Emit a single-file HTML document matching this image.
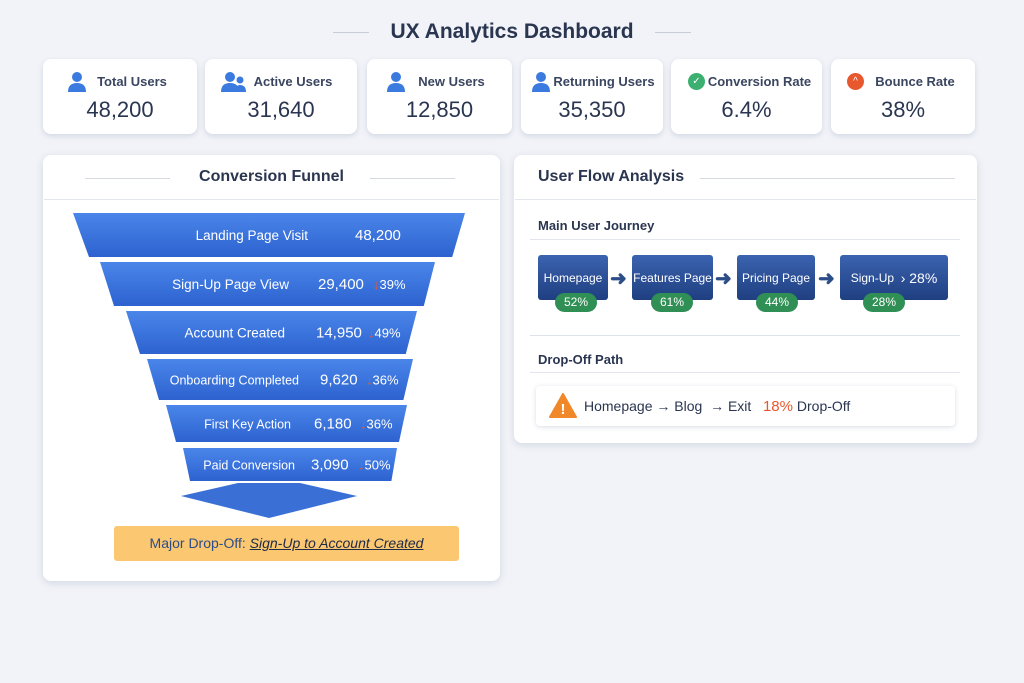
<!DOCTYPE html>
<html><head><meta charset="utf-8"><style>
*{box-sizing:border-box;margin:0;padding:0}
body{width:1024px;height:683px;background:#f1f3f8;font-family:"Liberation Sans",sans-serif;position:relative;overflow:hidden;color:#2a3550}
.abs{position:absolute}
.card{position:absolute;top:59px;height:75px;background:#fff;border-radius:8px;box-shadow:0 2px 6px rgba(40,60,100,.15)}
.card .lbl{position:absolute;top:15px;left:0;right:0;text-align:center;font-size:13px;font-weight:bold;color:#3a4560}
.card .val{position:absolute;top:38px;left:0;right:0;text-align:center;font-size:22px;color:#2a3550}
.card svg{position:absolute;top:12px}
.panel{position:absolute;background:#fff;border-radius:8px;box-shadow:0 2px 8px rgba(40,60,100,.15)}
.box{position:absolute;top:255px;height:45px;background:linear-gradient(#3b63b0,#1f3f80);border-radius:3px;color:#fff;font-size:12px;display:flex;align-items:center;justify-content:center}
.pill{position:absolute;top:293px;height:19px;width:42px;background:#2f8f55;border-radius:10px;color:#fff;font-size:12px;text-align:center;line-height:19px}
.arr{position:absolute;top:266px;color:#2d4d88;font-size:20px;font-weight:bold}
</style></head><body>
<div class="abs" style="left:0;right:0;top:20px;text-align:center;font-size:21px;font-weight:bold;color:#2a3550">UX Analytics Dashboard</div>
<div class="abs" style="left:333px;top:32px;width:36px;height:1px;background:#c8ccd6"></div>
<div class="abs" style="left:655px;top:32px;width:36px;height:1px;background:#c8ccd6"></div>

<div class="card" style="left:43px;width:154px"><div class="lbl" style="padding-left:24px">Total Users</div><div class="val">48,200</div><svg style="left:24px" width="20" height="22"><circle cx="10" cy="6" r="5" fill="#3b7be0"/><path d="M1 21 Q1 12 10 12 Q19 12 19 21Z" fill="#3b7be0"/></svg></div>
<div class="card" style="left:205px;width:152px"><div class="lbl" style="padding-left:24px">Active Users</div><div class="val">31,640</div><svg style="left:16px" width="26" height="22"><circle cx="9" cy="6" r="5" fill="#3b7be0"/><path d="M0 21 Q0 12 9 12 Q18 12 18 21Z" fill="#3b7be0"/><circle cx="19" cy="9" r="3.5" fill="#3b7be0"/><path d="M14 21 Q14 14 19 14 Q25 14 25 21Z" fill="#3b7be0"/></svg></div>
<div class="card" style="left:367px;width:145px"><div class="lbl" style="padding-left:24px">New Users</div><div class="val">12,850</div><svg style="left:19px" width="20" height="22"><circle cx="10" cy="6" r="5" fill="#3b7be0"/><path d="M1 21 Q1 12 10 12 Q19 12 19 21Z" fill="#3b7be0"/></svg></div>
<div class="card" style="left:521px;width:142px"><div class="lbl" style="padding-left:24px">Returning Users</div><div class="val">35,350</div><svg style="left:10px" width="20" height="22"><circle cx="10" cy="6" r="5" fill="#3b7be0"/><path d="M1 21 Q1 12 10 12 Q19 12 19 21Z" fill="#3b7be0"/></svg></div>
<div class="card" style="left:671px;width:151px"><div class="lbl" style="padding-left:26px">Conversion Rate</div><div class="val">6.4%</div><div class="abs" style="left:17px;top:14px;width:17px;height:17px;border-radius:50%;background:#3bb070;color:#fff;font-size:10px;text-align:center;line-height:17px">✓</div></div>
<div class="card" style="left:831px;width:144px"><div class="lbl" style="padding-left:24px">Bounce Rate</div><div class="val">38%</div><div class="abs" style="left:16px;top:14px;width:17px;height:17px;border-radius:50%;background:#e8582e;color:#fff;font-size:10px;text-align:center;line-height:17px">^</div></div>

<div class="panel" style="left:43px;top:155px;width:457px;height:426px"></div>
<div class="abs" style="left:43px;width:457px;top:168px;text-align:center;font-size:16px;font-weight:bold">Conversion Funnel</div>
<div class="abs" style="left:85px;top:178px;width:85px;height:1px;background:#d5d9e2"></div>
<div class="abs" style="left:370px;top:178px;width:85px;height:1px;background:#d5d9e2"></div>
<div class="abs" style="left:44px;top:199px;width:455px;height:1px;background:#e3e6ec"></div>
<svg id="funnel" class="abs" style="left:0;top:0" width="1024" height="683"></svg>
<div class="abs" style="left:114px;top:526px;width:345px;height:35px;background:#fbc770;border-radius:3px;font-size:14px;line-height:35px;text-align:center;color:#2d4d88">Major Drop-Off: <i style="color:#1f2a44;text-decoration:underline">Sign-Up to Account Created</i></div>

<div class="panel" style="left:514px;top:155px;width:463px;height:288px"></div>
<div class="abs" style="left:538px;top:168px;font-size:16px;font-weight:bold">User Flow Analysis</div>
<div class="abs" style="left:700px;top:178px;width:255px;height:1px;background:#d5d9e2"></div>
<div class="abs" style="left:515px;top:199px;width:461px;height:1px;background:#e3e6ec"></div>
<div class="abs" style="left:538px;top:218px;font-size:13px;font-weight:bold">Main User Journey</div>
<div class="abs" style="left:530px;top:239px;width:430px;height:1px;background:#e3e6ec"></div>
<div class="box" style="left:538px;width:70px">Homepage</div>
<div class="box" style="left:632px;width:81px">Features Page</div>
<div class="box" style="left:737px;width:78px">Pricing Page</div>
<div class="box" style="left:840px;width:108px">Sign-Up&nbsp;&nbsp;<span style="font-size:14px">› 28%</span></div>
<div class="arr" style="left:610px">➜</div>
<div class="arr" style="left:715px">➜</div>
<div class="arr" style="left:818px">➜</div>
<div class="pill" style="left:555px">52%</div>
<div class="pill" style="left:651px">61%</div>
<div class="pill" style="left:756px">44%</div>
<div class="pill" style="left:863px">28%</div>
<div class="abs" style="left:530px;top:335px;width:430px;height:1px;background:#dde1e8"></div>
<div class="abs" style="left:538px;top:352px;font-size:13px;font-weight:bold">Drop-Off Path</div>
<div class="abs" style="left:530px;top:372px;width:430px;height:1px;background:#e3e6ec"></div>
<div class="abs" style="left:536px;top:386px;width:419px;height:40px;background:#fff;border-radius:4px;box-shadow:0 1px 5px rgba(40,60,100,.18);font-size:14px;line-height:40px;padding-left:48px;color:#2a3550">Homepage → Blog &nbsp;→ Exit &nbsp;&nbsp;<b style="color:#e8582e;font-weight:normal;font-size:15px">18%</b> Drop-Off
<svg class="abs" style="left:13px;top:7px" width="28" height="25"><polygon points="14,1 27,24 1,24" fill="#f0882a" stroke="#f0882a" stroke-linejoin="round" stroke-width="2"/><text x="14" y="21" text-anchor="middle" fill="#fff" font-size="15" font-weight="bold" font-family="Liberation Sans">!</text></svg></div>

<script>
const stages=["Landing Page Visit","Sign-Up Page View","Account Created","Onboarding Completed","First Key Action","Paid Conversion"];
const counts=[48200,29400,14950,9620,6180,3090];
const drops=[null,39,49,36,36,50];
const svg=document.getElementById('funnel');
const NS='http://www.w3.org/2000/svg';
// layout (not data): row geometry of the funnel
const rowTopL=[213,262,311,359,405,448], rowHL=[44,44,43,41,37,33];
const topLeft=[73,100,126,147,166,183], topRight=[465,435,417,413,407,397];
const inset=[16,14,14,12,10,7];
svg.innerHTML='<defs><linearGradient id="g" x1="0" y1="0" x2="0" y2="1"><stop offset="0" stop-color="#4a86ea"/><stop offset="1" stop-color="#2d62cf"/></linearGradient></defs>';
counts.forEach((v,i)=>{
  const t=rowTopL[i],h=rowHL[i],L=topLeft[i],R=topRight[i],k=inset[i];
  const p=document.createElementNS(NS,'polygon');
  
  
  p.setAttribute('points',`${L},${t} ${R},${t} ${R-k*0.8},${t+h} ${L+k},${t+h}`);
  p.setAttribute('fill','url(#g)');
  svg.appendChild(p);
  const ty=t+h/2+5;
  const lab=document.createElementNS(NS,'text');
  
  
  lab.setAttribute('x',[308,289,285,299,291,295][i]);lab.setAttribute('y',ty);lab.setAttribute('text-anchor','end');
  lab.setAttribute('fill','#fff');lab.setAttribute('font-size',i>=3?12.5:13.5);lab.setAttribute('font-family','Liberation Sans');
  lab.textContent=stages[i];svg.appendChild(lab);
  const val=document.createElementNS(NS,'text');
  
  
  val.setAttribute('x',[355,318,316,320,314,311][i]);val.setAttribute('y',ty);
  val.setAttribute('fill','#fff');val.setAttribute('font-size',15);val.setAttribute('font-family','Liberation Sans');
  val.textContent=v.toLocaleString('en-US');svg.appendChild(val);
  if(drops[i]!=null){
    const d=document.createElementNS(NS,'text');
    
    
    d.setAttribute('x',[0,373,368,366,360,358][i]);d.setAttribute('y',ty);
    d.setAttribute('fill','#fff');d.setAttribute('font-size',13);d.setAttribute('font-family','Liberation Sans');
    d.innerHTML='<tspan fill="#e8582e" font-weight="bold">↓</tspan>'+drops[i]+'%';svg.appendChild(d);
  }
});
const a=document.createElementNS(NS,'polygon');


a.setAttribute('points','238,483 300,483 357,496 269,518 227,496 181,496 227,496');
a.setAttribute('points','238,483 300,483 357,496 269,518 181,496');
a.setAttribute('fill','#3a6fd6');
svg.appendChild(a);
</script>
</body></html>
